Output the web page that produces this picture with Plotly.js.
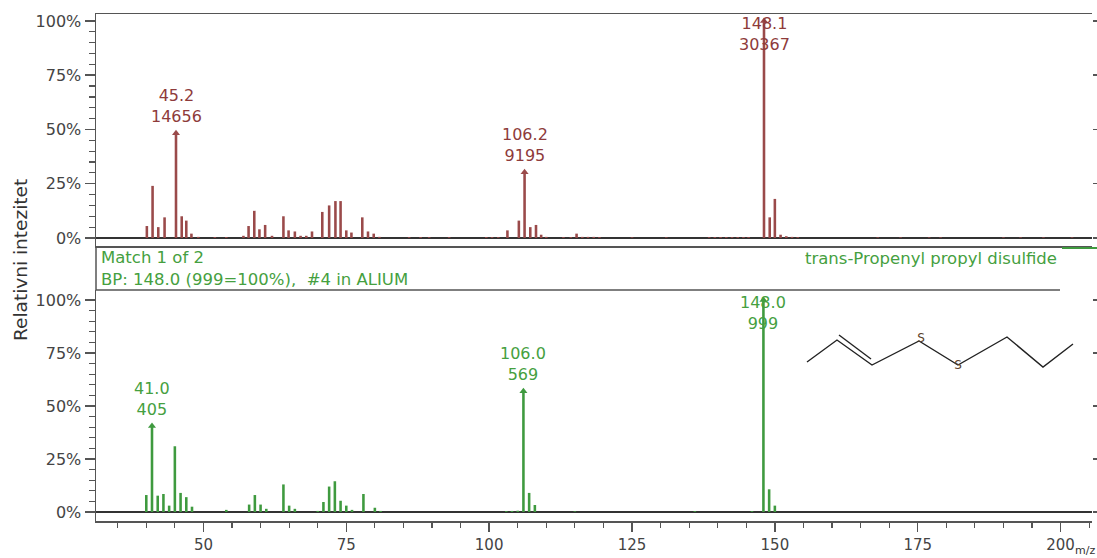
<!DOCTYPE html>
<html>
<head>
<meta charset="utf-8">
<script src="https://cdn.plot.ly/plotly-3.0.1.min.js"></script>
<style>
  html, body { margin: 0; padding: 0; background: #fff; }
  #chart { width: 1097px; height: 558px; }
</style>
</head>
<body>
<div id="chart"></div>
<script>
// sample spectrum (top), relative intensity in %
const sampleMz = [40.1, 41.1, 42.1, 43.2, 45.2, 46.2, 47.0, 47.9, 49.1, 52.0, 54.0, 57.0, 57.9, 58.9, 59.8, 60.8,
    62.0, 64.0, 64.9, 66.0, 67.0, 68.0, 69.0, 70.8, 72.0, 73.1, 74.0, 75.0, 75.9, 77.8, 78.8, 79.8, 80.8,
    86.0, 88.0, 89.5, 93.0, 99.5, 100.5, 101.6, 103.2, 105.2, 106.2, 107.2, 108.2, 109.1, 110.0,
    113.0, 114.3, 115.3, 116.3, 117.3, 118.3, 119.3, 125.0, 131.0,
    138.5, 139.5, 140.5, 141.5, 142.5, 143.5, 144.5, 145.4, 148.1, 149.1, 150.0, 151.0, 152.0, 153.0, 154.0,
    168.0, 172.0, 177.0, 179.0, 190.0, 193.0, 197.0, 202.0];
const samplePct = [5.5, 24, 5, 9.5, 48.3, 10, 8, 2, 0.5, 0.4, 0.4, 1, 5.5, 12.5, 4, 6,
    1, 10, 3.5, 3, 1, 1, 3, 12, 15, 17, 17, 3.5, 2.5, 9.5, 3, 2, 0.5,
    0.4, 0.4, 0.4, 0.4, 0.4, 0.4, 0.4, 3.5, 8, 30.3, 5, 6, 1.5, 0.5,
    0.4, 0.4, 2, 0.5, 0.5, 0.5, 0.4, 0.3, 0.3,
    0.4, 0.4, 0.4, 0.4, 0.4, 0.4, 0.4, 0.4, 100, 9.5, 18, 1.5, 0.8, 0.5, 0.4,
    0.3, 0.3, 0.3, 0.3, 0.3, 0.3, 0.3, 0.3];
const sampleLabelMz = [45.2, 106.2, 148.1];
const sampleLabelAbund = [14656, 9195, 30367];

// library spectrum (bottom)
const libMz = [40, 41, 42, 43, 44, 45, 46, 47, 48, 54, 58, 59, 60, 61, 64, 65, 66, 70, 71, 72, 73, 74, 75, 76,
    78, 80, 81, 103, 104, 105, 106, 107, 108, 115, 136, 146, 148, 149, 150];
const libPct = [8, 40.5, 7.7, 8.5, 3, 31, 9, 7, 2.5, 1, 3.5, 8, 3.5, 1.5, 13, 3, 1.5, 0.5, 4.7, 12, 14.5, 5.3, 3, 1,
    8.5, 2, 0.5, 0.4, 0.5, 0.6, 57, 9, 3.3, 0.3, 0.4, 0.4, 100, 10.7, 3];
const libLabelMz = [41.0, 106.0, 148.0];
const libLabelAbund = [405, 569, 999];

const compoundName = 'trans-Propenyl propyl disulfide';
const matchText = 'Match 1 of 2';
const bpText = 'BP: 148.0 (999=100%),  #4 in ALIUM';
const yTitle = 'Relativni intezitet';

// structure drawing, page pixel coordinates
const molX = [807, 837, 872, 919, 958, 1007, 1043, 1073];
const molY = [362, 340, 365, 341, 365, 337, 367, 344];
const molDoubleX = [839, 871];
const molDoubleY = [335, 359];
const molSulfurX = [921, 958];
const molSulfurY = [339, 366];

const W = 1097, H = 558;
const px = (v) => v / W;
const py = (v) => 1 - v / H;

const font = 'DejaVu Sans';
const red = '#9a4a4a', redText = '#8e3b3b';
const green = '#3f9a3f', greenText = '#45a040';
const axisColor = '#555';

const xRange = [31.2, 205.5];

function pctAt(mzArr, pctArr, mz) {
    let best = 0;
    mzArr.forEach((m, i) => {
        if (Math.abs(m - mz) < Math.abs(mzArr[best] - mz)) best = i;
    });
    return pctArr[best];
}

var data = [
    { type: 'bar', x: sampleMz, y: samplePct, width: 0.45, marker: { color: red }, xaxis: 'x', yaxis: 'y', hoverinfo: 'x+y' },
    { type: 'bar', x: libMz, y: libPct, width: 0.45, marker: { color: green }, xaxis: 'x2', yaxis: 'y2', hoverinfo: 'x+y' },
    { type: 'scatter', mode: 'markers', x: sampleLabelMz, y: sampleLabelMz.map((m) => pctAt(sampleMz, samplePct, m)),
      marker: { symbol: 'triangle-up', size: 7, color: red }, xaxis: 'x', yaxis: 'y', hoverinfo: 'skip' },
    { type: 'scatter', mode: 'markers', x: libLabelMz, y: libLabelMz.map((m) => pctAt(libMz, libPct, m)),
      marker: { symbol: 'triangle-up', size: 7, color: green }, xaxis: 'x2', yaxis: 'y2', hoverinfo: 'skip' },
    { type: 'scatter', mode: 'lines', x: [], y: [], xaxis: 'x', yaxis: 'y3', hoverinfo: 'skip' },
    { type: 'scatter', mode: 'lines', x: [], y: [], xaxis: 'x2', yaxis: 'y4', hoverinfo: 'skip' },
    // structure
    { type: 'scatter', mode: 'lines', x: molX, y: molY, line: { color: '#222', width: 1.4 }, xaxis: 'x5', yaxis: 'y5', hoverinfo: 'skip' },
    { type: 'scatter', mode: 'lines', x: molDoubleX, y: molDoubleY, line: { color: '#222', width: 1.4 }, xaxis: 'x5', yaxis: 'y5', hoverinfo: 'skip' },
    { type: 'scatter', mode: 'text', x: molSulfurX, y: molSulfurY, text: ['S', 'S'],
      textfont: { family: font, size: 12, color: '#5a3f2a' }, xaxis: 'x5', yaxis: 'y5', hoverinfo: 'skip' }
];

// peak labels
var annotations = [];
function addPeakLabels(mzArr, pctArr, labels, abund, color, xref, yref) {
    labels.forEach((m, i) => {
        const v = pctAt(mzArr, pctArr, m);
        const top = v >= 95;
        annotations.push({
            x: m, y: top ? 100 : v, xref: xref, yref: yref,
            text: m.toFixed(1) + '<br>' + abund[i],
            showarrow: false, xanchor: 'center',
            yanchor: top ? 'top' : 'bottom', yshift: top ? 9 : 5,
            font: { family: font, size: 16, color: color }
        });
    });
}
addPeakLabels(sampleMz, samplePct, sampleLabelMz, sampleLabelAbund, redText, 'x', 'y');
addPeakLabels(libMz, libPct, libLabelMz, libLabelAbund, greenText, 'x2', 'y2');

annotations.push(
    { xref: 'paper', yref: 'paper', x: px(99), y: py(257), xanchor: 'left', yanchor: 'middle', showarrow: false,
      text: matchText, font: { family: font, size: 16.5, color: greenText } },
    { xref: 'paper', yref: 'paper', x: px(99), y: py(279), xanchor: 'left', yanchor: 'middle', showarrow: false,
      text: bpText, font: { family: font, size: 16.5, color: greenText } },
    { xref: 'paper', yref: 'paper', x: px(1059), y: py(258), xanchor: 'right', yanchor: 'middle', showarrow: false,
      text: compoundName, font: { family: font, size: 16.5, color: greenText } },
    { xref: 'paper', yref: 'paper', x: px(20), y: py(260), xanchor: 'center', yanchor: 'middle', showarrow: false,
      textangle: -90, text: yTitle, font: { family: font, size: 18.5, color: '#333' } },
    { xref: 'paper', yref: 'paper', x: px(1096), y: 0, xanchor: 'right', yanchor: 'bottom', showarrow: false,
      borderpad: 0, text: 'm/z', font: { family: font, size: 11, color: '#333' } }
);

const yTicks = {
    tickmode: 'linear', tick0: 0, dtick: 25, ticksuffix: '%',
    ticks: 'outside', ticklen: 10, tickwidth: 1.5, tickcolor: axisColor,
    minor: { dtick: 5, tick0: 0, ticks: 'outside', ticklen: 6, tickwidth: 1.2, tickcolor: axisColor },
    tickfont: { family: font, size: 16, color: '#444' },
    showline: true, linecolor: axisColor, linewidth: 1.5,
    showgrid: false, zeroline: true, zerolinecolor: '#333', zerolinewidth: 2
};
const rightTicks = {
    tickmode: 'linear', tick0: 0, dtick: 25, ticks: 'outside', ticklen: 5, tickwidth: 1.5, tickcolor: axisColor,
    showticklabels: false, showline: false, showgrid: false, zeroline: false, side: 'right'
};

const layout = {
    width: W, height: H, autosize: false,
    margin: { l: 0, r: 0, t: 0, b: 0 },
    paper_bgcolor: '#fff', plot_bgcolor: 'rgba(0,0,0,0)',
    showlegend: false, barmode: 'overlay',
    font: { family: font },
    xaxis: {
        domain: [px(96), px(1092)], range: xRange, anchor: 'y',
        showticklabels: false, ticks: '', showline: true, mirror: true,
        linecolor: axisColor, linewidth: 1.5, showgrid: false, zeroline: false
    },
    yaxis: Object.assign({ domain: [py(246), py(14)], range: [-3.7, 103.2], anchor: 'x' }, yTicks),
    yaxis3: Object.assign({ overlaying: 'y', anchor: 'x', range: [-3.7, 103.2] }, rightTicks),
    xaxis2: {
        domain: [px(96), px(1092)], range: xRange, anchor: 'y2',
        tickmode: 'linear', tick0: 0, dtick: 25,
        ticks: 'outside', ticklen: 9, tickwidth: 1.5, tickcolor: axisColor,
        minor: { dtick: 5, tick0: 0, ticks: 'outside', ticklen: 5, tickwidth: 1.2, tickcolor: axisColor },
        tickfont: { family: font, size: 15, color: '#444' },
        showline: true, linecolor: axisColor, linewidth: 1.5, showgrid: false, zeroline: false
    },
    yaxis2: Object.assign({ domain: [py(521), py(290)], range: [-4.25, 104.7], anchor: 'x2' }, yTicks),
    yaxis4: Object.assign({ overlaying: 'y2', anchor: 'x2', range: [-4.25, 104.7] }, rightTicks),
    xaxis5: { domain: [0, 1], range: [0, W], anchor: 'y5', visible: false, fixedrange: true },
    yaxis5: { domain: [0, 1], range: [H, 0], anchor: 'x5', visible: false, fixedrange: true },
    shapes: [
        // header box: left edge and bottom rule
        { type: 'line', xref: 'paper', yref: 'paper', x0: px(96), x1: px(96), y0: py(246), y1: py(290),
          line: { color: axisColor, width: 1.5 } },
        { type: 'line', xref: 'paper', yref: 'paper', x0: px(96), x1: px(1060), y0: py(290), y1: py(290),
          line: { color: axisColor, width: 1.5 } },
        { type: 'line', xref: 'paper', yref: 'paper', x0: px(1062), x1: px(1097), y0: py(248), y1: py(248),
          line: { color: green, width: 2 } }
    ],
    annotations: annotations
};

Plotly.newPlot('chart', data, layout, { staticPlot: true });
</script>
</body>
</html>
